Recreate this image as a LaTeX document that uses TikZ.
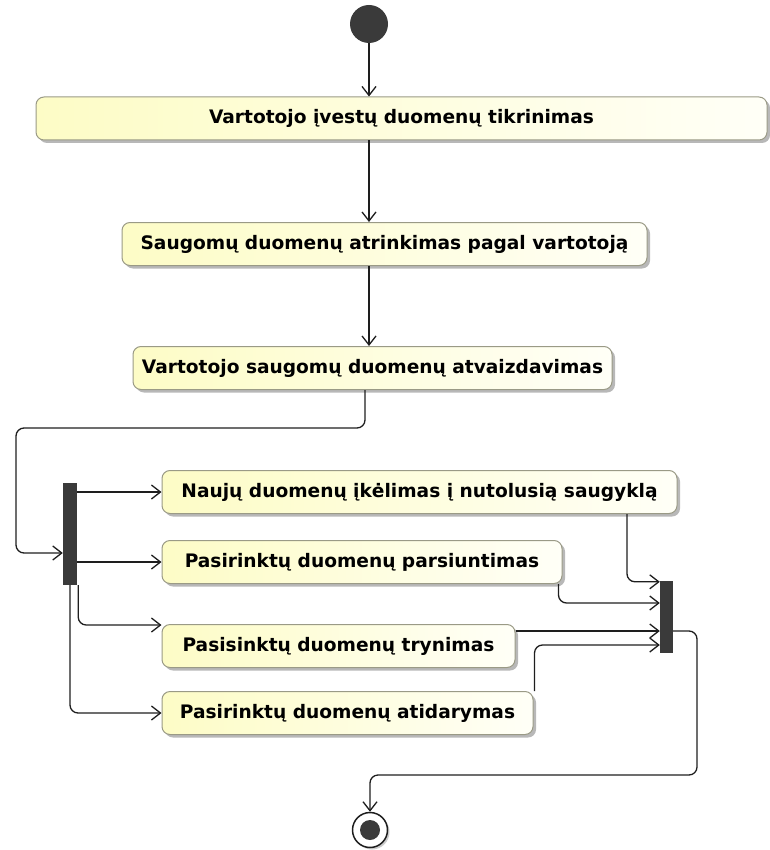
\documentclass[tikz,border=0pt]{standalone}
\usepackage{fontspec}
\setmainfont{DejaVu Sans}
\usetikzlibrary{arrows.meta,shadows}

\definecolor{boxl}{HTML}{FDFCC6}
\definecolor{boxr}{HTML}{FFFFF7}
\definecolor{boxline}{HTML}{9A9A86}
\definecolor{bardark}{HTML}{3A3A3A}
\definecolor{linec}{HTML}{1E1E1E}

\tikzset{
  act/.style={rectangle, rounded corners=8pt, draw=boxline, line width=1pt,
    left color=boxl, right color=boxr, minimum height=43pt, inner sep=0pt,
    font=\fontsize{18.6}{22}\selectfont\bfseries,
    drop shadow={shadow xshift=3pt, shadow yshift=-3pt, fill=black, opacity=0.28}},
  syncbar/.style={rectangle, fill=bardark, draw=none, inner sep=0pt},
  flow/.style={draw=linec, line width=1.3pt,
    -{Straight Barb[length=9pt,width=14pt,line width=1.3pt]}, rounded corners=8pt},
}

\begin{document}
\begin{tikzpicture}[x=1pt,y=-1pt]
  \useasboundingbox (0,0) rectangle (769,850);

  % initial and final nodes
  \node[circle, fill=bardark, minimum size=38pt, inner sep=0pt] (S) at (369,24) {};
  \node[circle, draw=linec, line width=1.5pt, fill=white, minimum size=35pt, inner sep=0pt,
        drop shadow={shadow xshift=2pt, shadow yshift=-2pt, fill=black, opacity=0.2}] (E) at (370,830) {};
  \node[circle, fill=bardark, minimum size=20pt, inner sep=0pt] (Ein) at (E) {};

  % actions
  \node[act, minimum width=731pt] (B1) at (401.5,118.5) {Vartotojo įvestų duomenų tikrinimas};
  \node[act, minimum width=525pt] (B2) at (384.5,244) {Saugomų duomenų atrinkimas pagal vartotoją};
  \node[act, minimum width=479pt] (B3) at (372.5,368) {Vartotojo saugomų duomenų atvaizdavimas};
  \node[act, minimum width=515pt] (B4) at (419.5,492) {Naujų duomenų įkėlimas į nutolusią saugyklą};
  \node[act, minimum width=400pt] (B5) at (362,562) {Pasirinktų duomenų parsiuntimas};
  \node[act, minimum width=353pt] (B6) at (338.5,646) {Pasisinktų duomenų trynimas};
  \node[act, minimum width=371pt] (B7) at (347.5,713) {Pasirinktų duomenų atidarymas};

  % fork and join bars
  \node[syncbar, minimum width=14pt, minimum height=102pt] (F) at (70,534) {};
  \node[syncbar, minimum width=13pt, minimum height=72pt] (J) at (666.5,617) {};

  % sequential flow
  \draw[flow] (S) -- (S |- B1.north);
  \draw[flow] (S |- B1.south) -- (S |- B2.north);
  \draw[flow] (S |- B2.south) -- (S |- B3.north);
  \draw[flow] ([xshift=-7.5pt]B3.south) |- (16,428) |- ([yshift=-19pt]F.west);

  % fork
  \draw[flow] (F.east |- B4.west) -- (B4.west);
  \draw[flow] (F.east |- B5.west) -- (B5.west);
  \draw[flow] ([xshift=1pt]F.south east) |- ([yshift=21pt]B6.west);
  \draw[flow] (F.south) |- (B7.west);

  % join
  \draw[flow] ([xshift=207.5pt]B4.south) |- ([yshift=-1pt]J.north west);
  \draw[flow] ([xshift=-4pt]B5.south east) |- ([yshift=14pt]J.west);
  \draw[flow] ([yshift=15pt]B6.east) -- ([yshift=-14pt]J.west);
  \draw[flow] ([xshift=1pt]B7.north east) |- ([yshift=-28pt]J.west);

  % to final node
  \draw[flow] ([yshift=-14pt]J.east) -| (697,775) -| (E.north);
\end{tikzpicture}
\end{document}
